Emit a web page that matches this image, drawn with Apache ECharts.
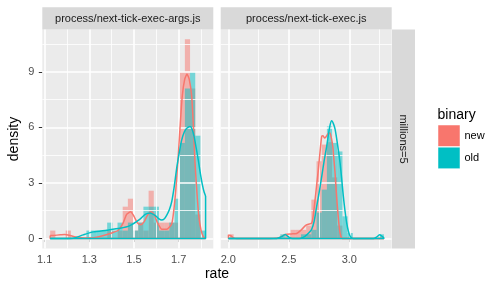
<!DOCTYPE html>
<html><head><meta charset="utf-8">
<script src="https://cdn.jsdelivr.net/npm/echarts@6/dist/echarts.min.js"></script>
<style>html,body{margin:0;padding:0;background:#fff}#c{width:500px;height:289px}</style>
</head><body><div id="c"></div>
<script>
// ---------- data ----------
const panelTitles = ['process/next-tick-exec-args.js', 'process/next-tick-exec.js'];
const rowStrip = 'millions=5';
const groupNames = ['new', 'old'];
const groupColors = ['#F8766D', '#00BFC4'];
const legendTitle = 'binary';
const xTitle = 'rate';
const yTitle = 'density';

// tick labels
const yTicks = [0, 3, 6, 9];
const yMinor = [1.5, 4.5, 7.5, 10.5];
const p1Ticks = [1.1, 1.3, 1.5, 1.7];
const p1Minor = [1.2, 1.4, 1.6, 1.8];
const p2Ticks = [2.0, 2.5, 3.0];
const p2Minor = [2.25, 2.75, 3.25];

// histogram bins (centers) and densities, panel 1
const p1Bins = [1.1365,1.1597,1.1829,1.2060,1.2292,1.2524,1.2756,1.2988,1.3219,1.3451,1.3683,1.3915,1.4147,1.4378,1.4610,1.4842,1.5074,1.5306,1.5537,1.5769,1.6001,1.6233,1.6465,1.6696,1.6928,1.7160,1.7392,1.7624,1.7855,1.8087];
const p1HistNew = [0.43,0,0,0.43,0,0,0,0,0,0,0,0.43,0,0.43,1.72,2.15,0.43,0.86,0.43,2.58,0.86,0.86,0.86,0.86,0.86,9.0,10.75,8.1,1.3,0];
const p1HistOld = [0,0,0,0,0,0,0,0.43,0.43,0.43,0.43,0.86,0.43,0.86,0.43,0.86,0.43,0.86,1.72,1.72,1.72,0.43,0.43,0.86,2.15,5.16,8.1,9.0,5.55,0.43];

// panel 2
const p2Bins = [2.0224,2.0652,2.1080,2.1509,2.1937,2.2365,2.2793,2.3221,2.3650,2.4078,2.4506,2.4934,2.5362,2.5791,2.6219,2.6647,2.7075,2.7503,2.7932,2.8360,2.8788,2.9216,2.9644,3.0073,3.0501,3.0929,3.1357,3.1785,3.2214,3.2642];
const p2HistNew = [0.23,0,0,0,0,0,0,0,0,0,0,0.23,0.47,0.47,0.47,0.7,2.1,4.17,5.07,5.2,3.3,0.7,0,0,0,0,0,0,0,0];
const p2HistOld = [0,0,0,0,0,0,0,0,0,0,0.23,0,0,0,0.23,0.23,0.47,1.4,2.64,6.05,5.16,4.7,1.2,0.3,0,0,0,0,0,0.23];

// density curves
const p1DensNewX = [1.1249,1.14,1.17,1.19,1.21,1.24,1.28,1.32,1.36,1.40,1.43,1.45,1.467,1.485,1.50,1.515,1.53,1.545,1.56,1.575,1.59,1.605,1.625,1.646,1.669,1.684,1.696,1.706,1.716,1.727,1.737,1.747,1.758,1.766,1.773,1.782,1.79,1.80,1.81,1.8203];
const p1DensNewY = [0.16,0.17,0.2,0.22,0.18,0.08,0.03,0.05,0.15,0.3,0.45,0.8,1.3,1.45,1.2,0.85,0.75,0.9,1.25,1.45,1.3,0.85,0.5,0.5,0.8,2.2,4.1,6.0,7.7,8.6,8.88,8.6,7.7,6.0,4.1,2.4,1.2,0.45,0.1,0.02];
const p1DensOldX = [1.1249,1.228,1.273,1.318,1.378,1.437,1.482,1.527,1.55,1.572,1.594,1.61,1.624,1.636,1.646,1.658,1.669,1.68,1.691,1.702,1.713,1.725,1.736,1.751,1.76,1.769,1.778,1.788,1.797,1.806,1.814,1.8203];
const p1DensOldY = [0,0.02,0.2,0.36,0.45,0.55,0.7,1.05,1.3,1.38,1.25,1.08,1.0,1.07,1.25,1.55,2.0,2.8,3.8,4.6,5.3,5.75,5.95,6.05,5.9,5.5,4.9,4.2,3.5,2.9,2.5,2.3];
const p2DensNewX = [2.001,2.02,2.04,2.07,2.30,2.42,2.47,2.52,2.565,2.60,2.642,2.689,2.703,2.717,2.73,2.744,2.758,2.772,2.783,2.794,2.803,2.813,2.826,2.84,2.852,2.863,2.872,2.882,2.891,2.901,2.912,2.923,2.937,2.96,3.2855];
const p2DensNewY = [0.2,0.15,0.05,0,0,0.05,0.22,0.25,0.27,0.45,0.72,0.84,1.3,2.1,2.9,3.72,4.7,5.52,5.55,5.43,5.45,5.55,5.68,5.7,5.4,4.98,4.3,3.54,2.6,1.74,0.9,0.3,0.02,0,0];
const p2DensOldX = [2.001,2.40,2.44,2.469,2.50,2.53,2.60,2.63,2.648,2.668,2.689,2.71,2.730,2.751,2.772,2.792,2.813,2.827,2.84,2.854,2.868,2.882,2.902,2.923,2.937,2.95,2.964,2.978,2.992,3.006,3.02,3.033,3.20,3.225,3.25,3.27,3.2855];
const p2DensOldY = [0,0,0.1,0.22,0.08,0,0.02,0.1,0.2,0.32,0.5,0.95,1.74,2.5,3.36,4.2,4.98,5.6,6.1,6.35,6.2,5.9,5.1,4.1,3.2,2.3,1.5,0.85,0.4,0.13,0.03,0,0,0.08,0.2,0.12,0.05];

// ---------- layout ----------
const G = [
  {left: 42.3, top: 29.5, width: 171, height: 219},
  {left: 220.7, top: 29.5, width: 171, height: 219}
];
const xRanges = [[1.0897, 1.8548], [1.937, 3.350]];
const yRange = [-0.537, 11.28];
const FONT = '"Liberation Sans", Arial, Helvetica, sans-serif';

function zip(a, b) { return a.map((v, i) => [v, b[i]]); }

function histSeries(g, bins, vals, color) {
  const bw = bins[1] - bins[0];
  return {
    type: 'custom', xAxisIndex: g, yAxisIndex: g, z: 3, silent: true,
    data: zip(bins, vals),
    renderItem: function (params, api) {
      const c = api.value(0), v = api.value(1);
      if (!v) return null;
      const p0 = api.coord([c - bw / 2, v]);
      const p1 = api.coord([c + bw / 2, 0]);
      return {type: 'rect', shape: {x: p0[0], y: p0[1], width: p1[0] - p0[0], height: p1[1] - p0[1]},
        style: {fill: color, opacity: 0.5}};
    }
  };
}
function densSeries(g, xs, ys, color) {
  const n = xs.length;
  return [
    {type: 'line', xAxisIndex: g, yAxisIndex: g, z: 5, silent: true, symbol: 'none',
     data: [[xs[0], ys[0]], [xs[0], 0], [xs[n - 1], 0], [xs[n - 1], ys[n - 1]]],
     lineStyle: {color: color, width: 1.5}},
    {type: 'line', xAxisIndex: g, yAxisIndex: g, z: 5, silent: true, symbol: 'none',
     smooth: 0.2,
     data: zip(xs, ys), lineStyle: {color: color, width: 1.5}}
  ];
}
function gridSeries(g, xMaj, xMin) {
  const d = [];
  xMin.forEach(v => d.push({xAxis: v, lineStyle: {width: 0.8}}));
  yMinor.forEach(v => d.push({yAxis: v, lineStyle: {width: 0.8}}));
  xMaj.forEach(v => d.push({xAxis: v, lineStyle: {width: 1.6}}));
  yTicks.forEach(v => d.push({yAxis: v, lineStyle: {width: 1.6}}));
  return {type: 'line', xAxisIndex: g, yAxisIndex: g, z: 1, silent: true, data: [],
    markLine: {silent: true, symbol: 'none', label: {show: false}, animation: false,
      lineStyle: {color: '#FFFFFF', type: 'solid'}, data: d}};
}
function xAxisCfg(g, ticks) {
  return {type: 'value', gridIndex: g, min: xRanges[g][0], max: xRanges[g][1],
    axisLine: {show: false}, splitLine: {show: false},
    axisTick: {show: true, customValues: ticks, length: 3.5, lineStyle: {color: '#333333', width: 1}},
    axisLabel: {show: true, customValues: ticks, margin: 6, color: '#4D4D4D', fontSize: 11, fontFamily: FONT,
      formatter: v => Number(v).toFixed(1)}};
}
function yAxisCfg(g, show) {
  return {type: 'value', gridIndex: g, min: yRange[0], max: yRange[1],
    axisLine: {show: false}, splitLine: {show: false},
    axisTick: {show: show, customValues: yTicks, length: 3.5, lineStyle: {color: '#333333', width: 1}},
    axisLabel: {show: show, customValues: yTicks, margin: 8, color: '#4D4D4D', fontSize: 11, fontFamily: FONT}};
}

const graphics = [];
panelTitles.forEach((t, i) => {
  graphics.push({type: 'rect', shape: {x: G[i].left, y: 7.3, width: G[i].width, height: 22.2}, style: {fill: '#D9D9D9'}, silent: true});
  graphics.push({type: 'text', x: G[i].left + G[i].width / 2, y: 18.6,
    style: {text: t, fill: '#1A1A1A', font: '11px ' + FONT, align: 'center', verticalAlign: 'middle'}, silent: true});
});
graphics.push({type: 'rect', shape: {x: 392, y: 29.5, width: 23, height: 219}, style: {fill: '#D9D9D9'}, silent: true});
graphics.push({type: 'text', x: 403.5, y: 139, rotation: -Math.PI / 2,
  style: {text: rowStrip, fill: '#1A1A1A', font: '11px ' + FONT, align: 'center', verticalAlign: 'middle'}, silent: true});
graphics.push({type: 'text', x: 217, y: 274, style: {text: xTitle, fill: '#000', font: '14px ' + FONT, align: 'center', verticalAlign: 'middle'}, silent: true});
graphics.push({type: 'text', x: 14, y: 139, rotation: Math.PI / 2,
  style: {text: yTitle, fill: '#000', font: '14px ' + FONT, align: 'center', verticalAlign: 'middle'}, silent: true});
graphics.push({type: 'text', x: 437.5, y: 115, style: {text: legendTitle, fill: '#000', font: '14px ' + FONT, align: 'left', verticalAlign: 'middle'}, silent: true});
groupNames.forEach((nm, i) => {
  const y0 = 125 + i * 22.2;
  graphics.push({type: 'rect', shape: {x: 438, y: y0, width: 22, height: 21.5}, style: {fill: groupColors[i], stroke: '#FFFFFF', lineWidth: 0.5}, silent: true});
  graphics.push({type: 'text', x: 464.5, y: y0 + 11, style: {text: nm, fill: '#000', font: '11px ' + FONT, align: 'left', verticalAlign: 'middle'}, silent: true});
});

const series = [
  gridSeries(0, p1Ticks, p1Minor), gridSeries(1, p2Ticks, p2Minor),
  histSeries(0, p1Bins, p1HistNew, groupColors[0]), histSeries(0, p1Bins, p1HistOld, groupColors[1]),
  histSeries(1, p2Bins, p2HistNew, groupColors[0]), histSeries(1, p2Bins, p2HistOld, groupColors[1]),
  ...densSeries(0, p1DensNewX, p1DensNewY, groupColors[0]), ...densSeries(0, p1DensOldX, p1DensOldY, groupColors[1]),
  ...densSeries(1, p2DensNewX, p2DensNewY, groupColors[0]), ...densSeries(1, p2DensOldX, p2DensOldY, groupColors[1])
];

const chart = echarts.init(document.getElementById('c'), null, {renderer: 'canvas'});
chart.setOption({
  animation: false,
  backgroundColor: '#FFFFFF',
  grid: G.map(g => Object.assign({show: true, backgroundColor: '#EBEBEB', borderWidth: 0}, g)),
  xAxis: [xAxisCfg(0, p1Ticks), xAxisCfg(1, p2Ticks)],
  yAxis: [yAxisCfg(0, true), yAxisCfg(1, false)],
  series: series,
  graphic: graphics
});
</script></body></html>
